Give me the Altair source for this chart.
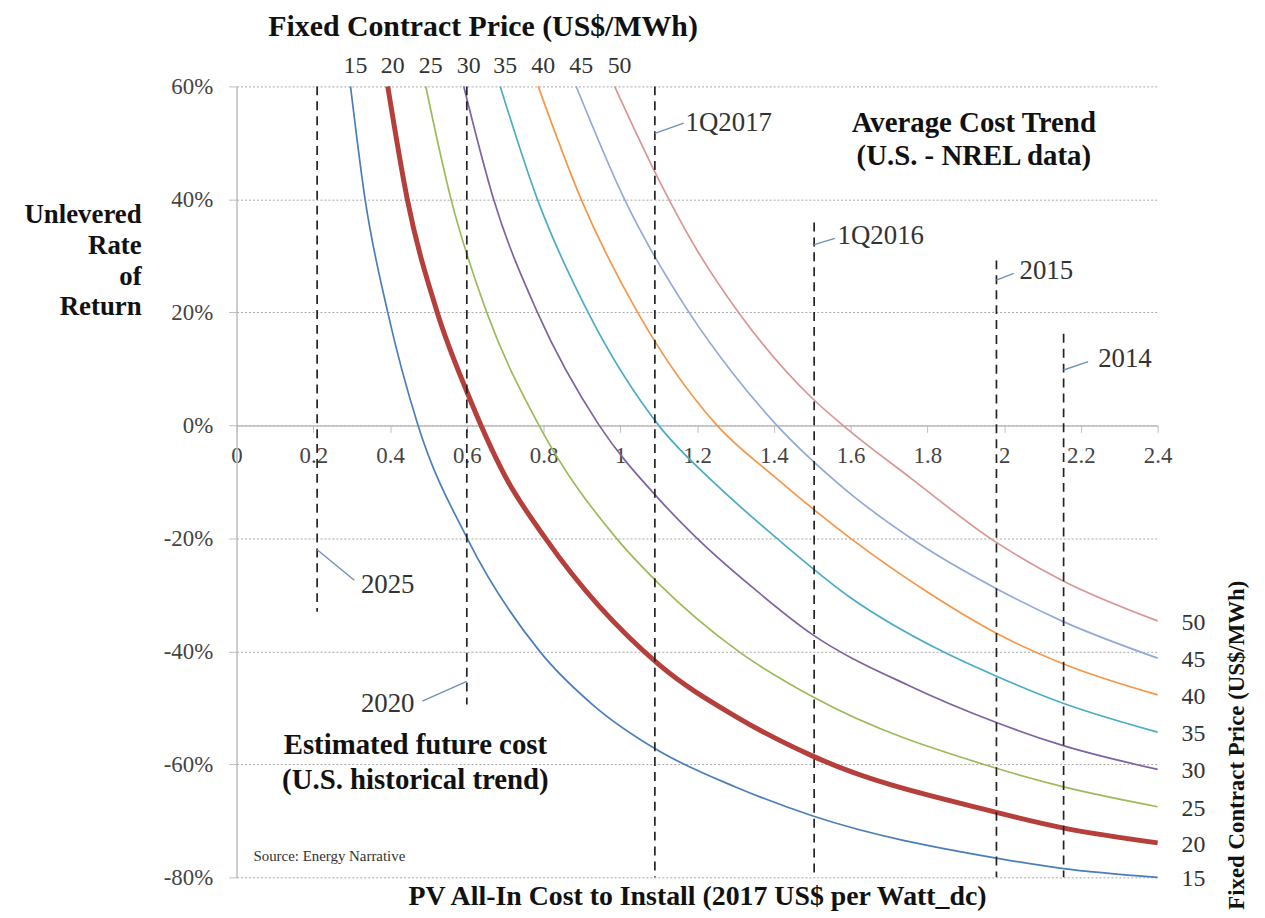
import altair as alt
import pandas as pd

FONT = "Liberation Serif"

prices = [15, 20, 25, 30, 35, 40, 45, 50]
colors = ["#4a7ebb", "#b53f3a", "#9bbb59", "#7e62a1", "#4bacc6", "#f79646", "#93a9d8", "#d99694"]

# Curves: cost (US$/W) vs unlevered IRR (%)
x15 = [0.297, 0.335, 0.394, 0.473, 0.601, 0.790, 0.929, 1.1, 1.3, 1.5, 1.98, 2.15, 2.4]
y15 = [60, 40, 20, 0, -20, -40, -49.5, -57.6, -64, -69.1, -76.6, -78.4, -80]
x20 = [0.394, 0.445, 0.523, 0.6, 0.7, 0.805, 1.1, 1.3, 1.5, 1.98, 2.15, 2.4]
y20 = [60, 40, 20, 6, -9, -20, -42.3, -51.5, -58.5, -68.5, -71.2, -73.9]
x25 = [0.493, 0.559, 0.652, 0.788, 0.99, 1.1, 1.308, 1.5, 1.98, 2.15, 2.4]
y25 = [60, 40, 20, 0, -20, -28, -40, -48, -60.7, -63.9, -67.5]
x30 = [0.592, 0.670, 0.784, 0.945, 1.1, 1.2, 1.35, 1.5, 1.75, 1.98, 2.15, 2.4]
y30 = [60, 40, 20, 0, -13, -20, -29, -37, -46, -52.6, -56.6, -60.9]
x35 = [0.687, 0.784, 0.916, 1.1, 1.25, 1.408, 1.6, 1.839, 1.98, 2.15, 2.4]
y35 = [60, 40, 20, 0, -10.5, -20, -30.5, -40, -44.4, -49.1, -54.3]
x40 = [0.786, 0.898, 1.045, 1.252, 1.4, 1.6, 1.8, 1.98, 2.15, 2.4]
y40 = [60, 40, 20, 0, -9, -20, -29.5, -36.8, -42.1, -47.7]
x45 = [0.885, 1.011, 1.179, 1.29, 1.408, 1.58, 1.78, 1.98, 2.15, 2.4]
y45 = [60, 40, 20, 9.5, 0, -11, -21, -28.9, -34.6, -41.2]
x50 = [0.985, 1.1, 1.2, 1.308, 1.5, 1.58, 1.76, 1.964, 2.15, 2.4]
y50 = [60, 43.5, 31, 20, 4.8, 0, -9.5, -20, -27.4, -34.6]

curve_x = [x15, x20, x25, x30, x35, x40, x45, x50]
curve_y = [y15, y20, y25, y30, y35, y40, y45, y50]

# Cost milestones (vertical dashed lines)
ev_names = ["2025", "2020", "1Q2017", "1Q2016", "2015", "2014"]
ev_x = [0.21, 0.6, 1.09, 1.505, 1.98, 2.155]
ev_top = [60, 60, 60, 35.9, 29.2, 16.2]
ev_bot = [-33, -49.4, -80, -80, -80, -80]
lead_y0 = [-22, -45.3, 51.7, 32, 25.7, 9.8]
lead_x1 = [0.307, 0.484, 1.165, 1.559, 2.025, 2.219]
lead_y1 = [-27.4, -48.8, 53.5, 33.1, 26.9, 11.3]
lab_x = [0.324, 0.324, 1.17, 1.566, 2.04, 2.245]
lab_y = [-28.2, -49.4, 53.5, 33.6, 27.4, 11.8]

notes = ["Average Cost Trend", "(U.S. - NREL data)", "Estimated future cost", "(U.S. historical trend)"]
note_x = [1.921, 1.921, 0.466, 0.466]
note_y = [53.5, 47.7, -56.5, -62.8]

rows = []
for p, xs, ys in zip(prices, curve_x, curve_y):
    for i, (a, b) in enumerate(zip(xs, ys)):
        rows.append({"price": str(p), "x": a, "y": b, "o": i})
curves = pd.DataFrame(rows)

tops = pd.DataFrame({"price": [str(p) for p in prices], "x": [xs[0] for xs in curve_x], "y": [ys[0] for ys in curve_y]})
ends = pd.DataFrame({"price": [str(p) for p in prices], "x": [xs[-1] for xs in curve_x], "y": [ys[-1] for ys in curve_y]})
events = pd.DataFrame({"name": ev_names, "x": ev_x, "y": ev_top, "y2": ev_bot,
                       "ly0": lead_y0, "lx1": lead_x1, "ly1": lead_y1, "tx": lab_x, "ty": lab_y})
notes_df = pd.DataFrame({"t": notes, "x": note_x, "y": note_y})
source_df = pd.DataFrame({"t": ["Source: Energy Narrative"], "x": [0.044], "y": [-76.3]})

W, H = 927, 796
xscale = alt.Scale(domain=[0, 2.4], nice=False, zero=False)
yscale = alt.Scale(domain=[-80, 60], nice=False, zero=False)

xaxis = alt.Axis(values=[0, 0.2, 0.4, 0.6, 0.8, 1, 1.2, 1.4, 1.6, 1.8, 2, 2.2, 2.4], format="~g",
                 grid=False, offset=-H * 80 / 140, domainColor="#bdbdbd", domainWidth=1.5,
                 tickColor="#bdbdbd", tickSize=7, labelFontSize=23, labelColor="#444",
                 labelPadding=12, labelOverlap=False, labelFlush=False,
                 title="PV All-In Cost to Install (2017 US$ per Watt_dc)", titleFontSize=28,
                 titleFontWeight="bold", titleColor="#111", titleY=474, titleBaseline="middle")
yaxis = alt.Axis(values=[-80, -60, -40, -20, 0, 20, 40, 60], labelExpr="datum.value + '%'",
                 grid=True, gridDash=[2, 2], gridColor="#a6a6a6", gridWidth=1,
                 domainColor="#bdbdbd", domainWidth=1.5, tickColor="#bdbdbd", tickSize=8,
                 labelFontSize=23, labelColor="#444", labelPadding=16,
                 title=["Unlevered", "Rate", "of", "Return"], titleFontSize=27, titleFontWeight="bold",
                 titleColor="#111", titleAngle=0, titleAlign="right", titleBaseline="alphabetic",
                 titleX=-96, titleY=137, titleLineHeight=31)


def X(f="x"):
    return alt.X(f, type="quantitative", scale=xscale, axis=xaxis)


def Y(f="y"):
    return alt.Y(f, type="quantitative", scale=yscale, axis=yaxis)


lines = alt.Chart(curves).mark_line(interpolate="monotone").encode(
    x=X(), y=Y(),
    color=alt.Color("price:N", scale=alt.Scale(domain=[str(p) for p in prices], range=colors), legend=None),
    strokeWidth=alt.condition(alt.datum.price == "20", alt.value(5), alt.value(1.7)),
    order="o:Q",
)

dashed = alt.Chart(events).mark_rule(strokeDash=[9, 6], color="#222", strokeWidth=1.7).encode(
    x=X(), y=Y(), y2="y2")

leaders = alt.Chart(events).mark_rule(color="#6f90b8", strokeWidth=1.4).encode(
    x=X(), y=Y("ly0"), x2="lx1", y2="ly1")

ev_text = alt.Chart(events).mark_text(align="left", baseline="middle", fontSize=27, color="#333").encode(
    x=X("tx"), y=Y("ty"), text="name")

top_text = alt.Chart(tops).mark_text(align="center", baseline="middle", fontSize=24, color="#333", dy=-20, dx=5).encode(
    x=X(), y=Y(), text="price")

end_text = alt.Chart(ends).mark_text(align="center", baseline="middle", fontSize=24, color="#333", dx=36, dy=2).encode(
    x=X(), y=Y(), text="price")

note_text = alt.Chart(notes_df).mark_text(align="center", baseline="middle", fontSize=29, fontWeight="bold", color="#111").encode(
    x=X(), y=Y(), text="t")

src_text = alt.Chart(source_df).mark_text(align="left", baseline="middle", fontSize=15, color="#333").encode(
    x=X(), y=Y(), text="t")

right_title = alt.Chart(pd.DataFrame({"t": ["Fixed Contract Price (US$/MWh)"]})).mark_text(
    angle=270, align="center", baseline="middle", fontSize=23, fontWeight="bold", color="#111").encode(
    x=alt.value(W + 80), y=alt.value(663), text="t")

chart = alt.layer(lines, dashed, leaders, ev_text, top_text, end_text, note_text, src_text, right_title).properties(
    width=W, height=H,
    autosize=alt.AutoSizeParams(type="none"),
    padding={"left": 230, "top": 76, "right": 100, "bottom": 38},
    title=alt.TitleParams("Fixed Contract Price (US$/MWh)", anchor="start", frame="group", dx=32,
                          fontSize=30, fontWeight="bold", color="#111", font=FONT, offset=13),
).configure(font=FONT, background="white").configure_view(stroke=None).configure_axis(
    labelFont=FONT, titleFont=FONT).configure_text(font=FONT)

chart.save("out.html", embed_options={"renderer": "svg", "actions": False})
